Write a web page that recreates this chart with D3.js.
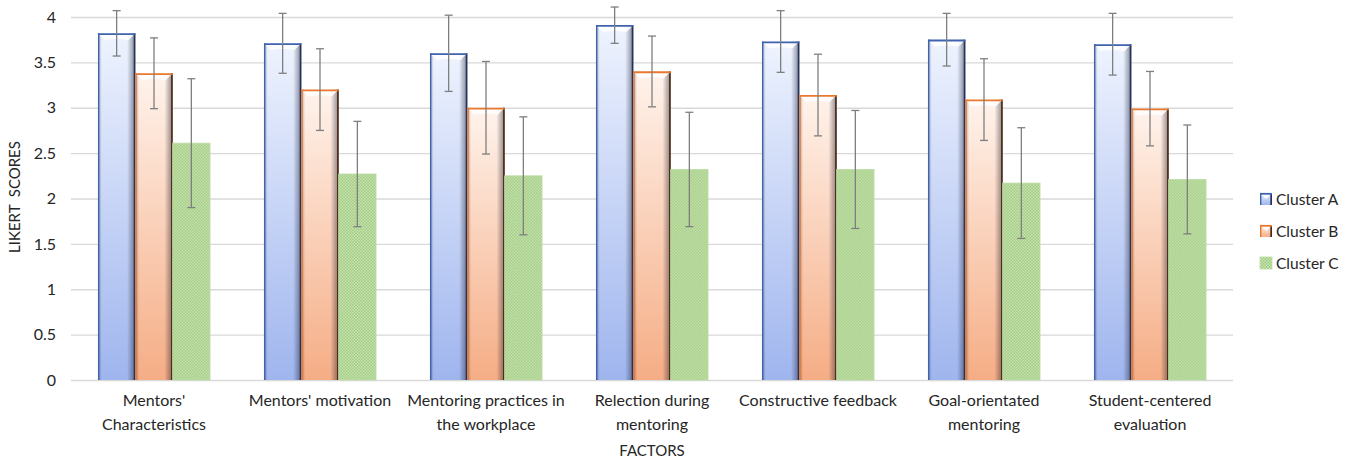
<!DOCTYPE html>
<html>
<head>
<meta charset="utf-8">
<script src="https://cdn.jsdelivr.net/npm/d3@7"></script>
<style>
  body { margin: 0; background: #fff; }
  text { font-family: Lato, "Open Sans", sans-serif; fill: #262626; }
</style>
</head>
<body>
<div id="chart"></div>
<script>
const factors = [
  "Mentors'\nCharacteristics",
  "Mentors' motivation",
  "Mentoring practices in\nthe workplace",
  "Relection during\nmentoring",
  "Constructive feedback",
  "Goal-orientated\nmentoring",
  "Student-centered\nevaluation"
];
const clusters = ["Cluster A", "Cluster B", "Cluster C"];
const clusterA = [3.82, 3.71, 3.60, 3.91, 3.73, 3.75, 3.70];
const clusterB = [3.38, 3.20, 3.00, 3.40, 3.14, 3.09, 2.99];
const clusterC = [2.61, 2.27, 2.25, 2.32, 2.32, 2.17, 2.21];
const errA = [0.25, 0.33, 0.42, 0.20, 0.34, 0.29, 0.34];
const errB = [0.39, 0.45, 0.51, 0.39, 0.45, 0.45, 0.41];
const errC = [0.71, 0.58, 0.65, 0.63, 0.65, 0.61, 0.60];
const yTicks = [0, 0.5, 1, 1.5, 2, 2.5, 3, 3.5, 4];

const W = 1352, H = 460;
const plotL = 71, plotR = 1233, plotT = 17, plotB = 380;

const svg = d3.select("#chart").append("svg")
  .attr("width", W).attr("height", H);

const defs = svg.append("defs");

// vertical fills for the bevelled bars
function vGrad(id, c1, c2) {
  const g = defs.append("linearGradient").attr("id", id)
    .attr("x1", 0).attr("y1", 0).attr("x2", 0).attr("y2", 1);
  g.append("stop").attr("offset", "0%").attr("stop-color", c1);
  g.append("stop").attr("offset", "100%").attr("stop-color", c2);
}
vGrad("fillA", "#eef3fe", "#9fb5ee");
vGrad("fillB", "#fff3ec", "#f5ad85");

// side shading (bevel edges)
const sh = defs.append("linearGradient").attr("id", "shade")
  .attr("x1", 0).attr("y1", 0).attr("x2", 1).attr("y2", 0);
[["0%", 0.35], ["10%", 0], ["78%", 0], ["100%", 0.5]].forEach(([o, a]) =>
  sh.append("stop").attr("offset", o).attr("stop-color", "#1a1a2a").attr("stop-opacity", a));

// green checker pattern
const pat = defs.append("pattern").attr("id", "fillC")
  .attr("width", 3).attr("height", 3).attr("patternUnits", "userSpaceOnUse");
pat.append("rect").attr("width", 3).attr("height", 3).attr("fill", "#d6eac4");
pat.append("rect").attr("width", 1.5).attr("height", 1.5).attr("fill", "#93c56f");
pat.append("rect").attr("x", 1.5).attr("y", 1.5).attr("width", 1.5).attr("height", 1.5).attr("fill", "#93c56f");

const x = d3.scaleBand().domain(factors).range([plotL, plotR])
  .paddingInner(0.325).paddingOuter(0.1625);
const xs = d3.scaleBand().domain(clusters).range([0, x.bandwidth()]);
const y = d3.scaleLinear().domain([0, 4]).range([plotB, plotT]);

// gridlines + y ticks
const yAxis = svg.append("g")
  .attr("transform", `translate(${plotL},0)`)
  .call(d3.axisLeft(y).tickValues(yTicks).tickSize(-(plotR - plotL))
    .tickPadding(15).tickFormat(d3.format("")));
yAxis.select(".domain").remove();
yAxis.selectAll(".tick line").attr("stroke", "#d9d9d9").attr("stroke-width", 1.3);
yAxis.selectAll(".tick text").style("font-size", "16px").attr("fill", "#262626");

const styles = {
  "Cluster A": { fill: "url(#fillA)", topStroke: "#3f63ad", side: "#22335e", bevel: true },
  "Cluster B": { fill: "url(#fillB)", topStroke: "#e8782f", side: "#4a2a12", bevel: true },
  "Cluster C": { fill: "url(#fillC)", topStroke: "#bcdca5", side: "#bcdca5", bevel: false }
};

const series = [clusterA, clusterB, clusterC];
const errs = [errA, errB, errC];

const rows = [];
factors.forEach((f, i) => {
  clusters.forEach((c, j) => {
    rows.push({ factor: f, cluster: c, value: series[j][i], err: errs[j][i] });
  });
});

function drawBar(g, w, h, st) {
  g.append("rect").attr("width", w).attr("height", h).attr("fill", st.fill);
  if (st.bevel) {
    g.append("rect").attr("width", w).attr("height", h).attr("fill", "url(#shade)");
    const b = Math.min(7, h / 2);
    g.append("path")
      .attr("d", `M0,0 L${w},0 L${w - b},${b} Q${w / 2},${b - 3} ${b},${b} Z`)
      .attr("fill", "#ffffff").attr("opacity", 0.85);
    g.append("line").attr("x1", w - 0.8).attr("x2", w - 0.8).attr("y1", 0).attr("y2", h)
      .attr("stroke", st.side).attr("stroke-width", 1.6);
    g.append("line").attr("x1", 0.7).attr("x2", 0.7).attr("y1", 0).attr("y2", h)
      .attr("stroke", st.topStroke).attr("stroke-width", 1.4);
    g.append("line").attr("x1", 0).attr("x2", w).attr("y1", 0.8).attr("y2", 0.8)
      .attr("stroke", st.topStroke).attr("stroke-width", 1.8);
  } else {
    g.append("rect").attr("width", w).attr("height", h).attr("fill", "none")
      .attr("stroke", st.topStroke).attr("stroke-width", 0.8);
  }
}

const bars = svg.append("g").selectAll("g").data(rows).join("g")
  .attr("transform", d => `translate(${x(d.factor) + xs(d.cluster)},${y(d.value)})`);
bars.each(function (d) {
  drawBar(d3.select(this), xs.bandwidth(), y(0) - y(d.value), styles[d.cluster]);
});

// error bars
const eb = svg.append("g").attr("stroke", "#7f7f7f").attr("stroke-width", 1.3)
  .selectAll("g").data(rows).join("g")
  .attr("transform", d => `translate(${x(d.factor) + xs(d.cluster) + xs.bandwidth() / 2},0)`);
eb.append("line").attr("y1", d => y(d.value + d.err)).attr("y2", d => y(d.value - d.err));
eb.append("line").attr("x1", -4).attr("x2", 4)
  .attr("y1", d => y(d.value + d.err)).attr("y2", d => y(d.value + d.err));
eb.append("line").attr("x1", -4).attr("x2", 4)
  .attr("y1", d => y(d.value - d.err)).attr("y2", d => y(d.value - d.err));

// x labels
const xl = svg.append("g").selectAll("text").data(factors).join("text")
  .attr("text-anchor", "middle").style("font-size", "16px")
  .attr("transform", d => `translate(${x(d) + x.bandwidth() / 2},406)`);
xl.selectAll("tspan").data(d => d.split("\n")).join("tspan")
  .attr("x", 0).attr("dy", (d, i) => i === 0 ? 0 : 24).text(d => d);

// axis titles
svg.append("text").attr("x", (plotL + plotR) / 2).attr("y", 456)
  .attr("text-anchor", "middle").style("font-size", "15px").text("FACTORS");
svg.append("text").attr("transform", "translate(20,197) rotate(-90)")
  .attr("text-anchor", "middle").style("font-size", "15px")
  .attr("xml:space", "preserve").text("LIKERT  SCORES");

// legend
const lg = svg.append("g").selectAll("g").data(clusters).join("g")
  .attr("transform", (d, i) => `translate(1260,${193 + i * 32})`);
lg.each(function (d) {
  drawBar(d3.select(this), 12, 12, styles[d]);
});
lg.append("text").attr("x", 16).attr("y", 11.5).style("font-size", "15.5px").text(d => d);
</script>
</body>
</html>
